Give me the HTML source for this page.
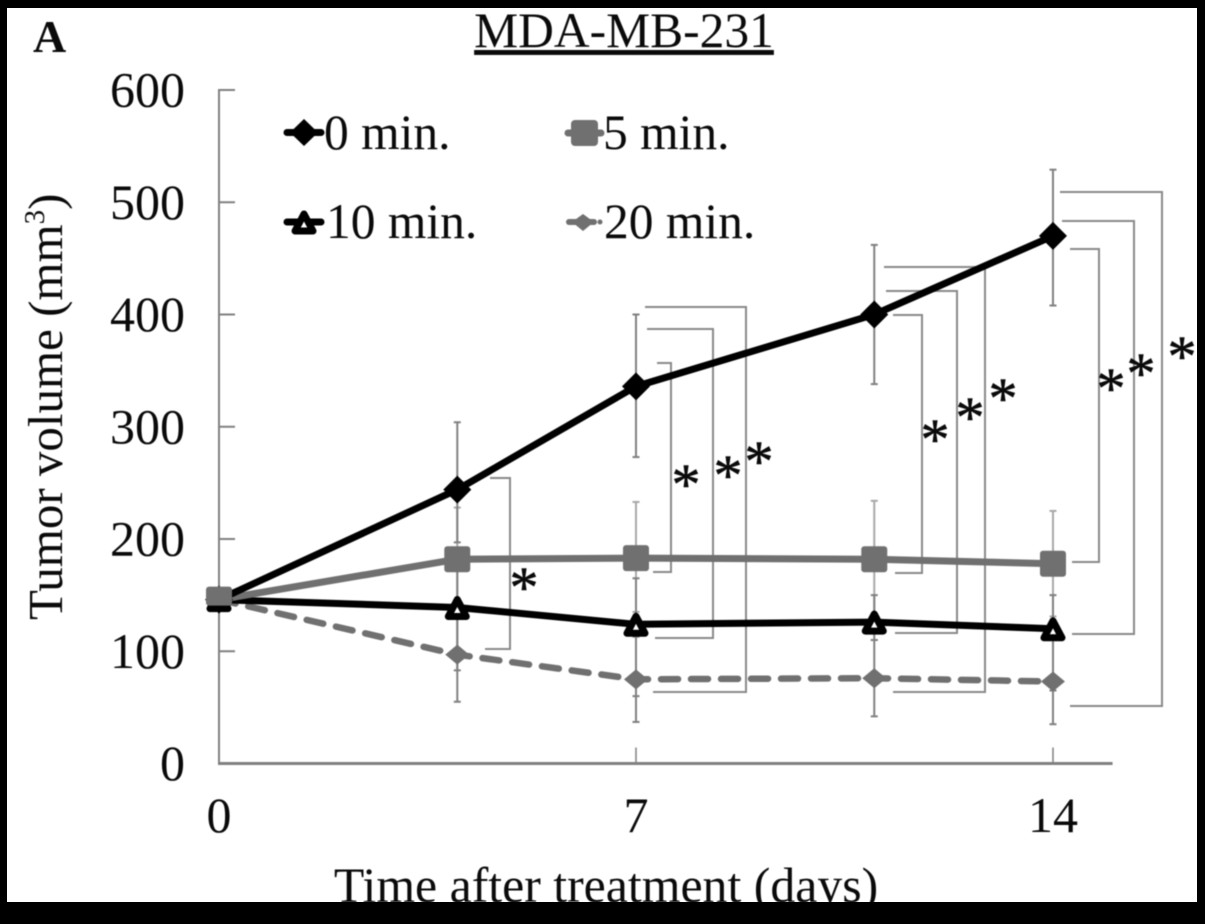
<!DOCTYPE html>
<html lang="en">
<head>
<meta charset="utf-8">
<title>MDA-MB-231 tumor volume</title>
<style>
html,body{margin:0;padding:0;background:#000;width:1205px;height:924px;overflow:hidden}
svg{display:block}
text{font-family:"Liberation Serif",serif;fill:#0a0a0a}
.br{fill:none;stroke:#8a8a8a;stroke-width:2}
.ast{font-size:58px;text-anchor:middle;stroke:#0a0a0a;stroke-width:.6}
.tk{font-size:50px}
</style>
</head>
<body>
<svg id="chart" width="1205" height="924" viewBox="0 0 1205 924" xmlns="http://www.w3.org/2000/svg">
  <rect x="0" y="0" width="1205" height="924" fill="#000"/>
  <rect x="7" y="8" width="1190" height="894" fill="#fff"/>
  <g id="root" style="filter:blur(0.6px)">
    <text x="33" y="52" font-size="46" font-weight="bold">A</text>
    <text x="624" y="47" font-size="49.5" text-anchor="middle" text-decoration="underline">MDA-MB-231</text>
    <text transform="translate(62,620) rotate(-90)" font-size="49">Tumor volume (mm<tspan font-size="29" dy="-18">3</tspan><tspan dy="18">)</tspan></text>
    <g id="axes"></g>
    <g id="brackets">
      <polyline class="br" points="490,478 510,478 510,649 485,649"/>
      <polyline class="br" points="657,363 671,363 671,572 653,572"/>
      <polyline class="br" points="647,329 713,329 713,638 655,638"/>
      <polyline class="br" points="645,307 746,307 746,692 653,692"/>
      <polyline class="br" points="893,315 922,315 922,573 895,573"/>
      <polyline class="br" points="886,291 957,291 957,633 895,633"/>
      <polyline class="br" points="884,267 985,267 985,692 893,692"/>
      <polyline class="br" points="1070,249 1099,249 1099,562 1072,562"/>
      <polyline class="br" points="1062,221 1134,221 1134,634 1072,634"/>
      <polyline class="br" points="1060,192 1162,192 1162,706 1070,706"/>
    </g>
    <g id="errors"></g>
    <g id="series"></g>
    <g>
      <text class="ast" x="524" y="607">*</text>
      <text class="ast" x="686" y="504">*</text>
      <text class="ast" x="728" y="495">*</text>
      <text class="ast" x="759" y="481">*</text>
      <text class="ast" x="935" y="459">*</text>
      <text class="ast" x="970" y="437">*</text>
      <text class="ast" x="1003" y="418">*</text>
      <text class="ast" x="1111" y="408">*</text>
      <text class="ast" x="1141" y="393">*</text>
      <text class="ast" x="1182" y="376">*</text>
    </g>
    <g>
      <g>
        <line x1="287" x2="321" y1="132.5" y2="132.5" stroke="#000" stroke-width="7" stroke-linecap="round"/>
        <polygon points="304,119 318,132.5 304,146 290,132.5" fill="#000"/>
        <text x="324" y="149" font-size="49.5">0 min.</text>
      </g>
      <g>
        <line x1="568" x2="601" y1="133" y2="133" stroke="#707070" stroke-width="7" stroke-linecap="round"/>
        <rect x="571" y="120" width="27" height="26" rx="4" fill="#707070"/>
        <text x="603" y="149" font-size="49.5">5 min.</text>
      </g>
      <g>
        <line x1="287" x2="321" y1="222" y2="222" stroke="#000" stroke-width="7" stroke-linecap="round"/>
        <polygon points="295,231 313,231 304,214" fill="#fff" stroke="#000" stroke-width="7" stroke-linejoin="round"/>
        <text x="326" y="238" font-size="49.5">10 min.</text>
      </g>
      <g>
        <line x1="569" x2="594" y1="222" y2="222" stroke="#707070" stroke-width="6" stroke-linecap="round"/>
        <polygon points="583,214 594,222 583,231 572,222" fill="#707070"/>
        <circle cx="600" cy="222" r="2.5" fill="#707070"/>
        <text x="604" y="238" font-size="49.5">20 min.</text>
      </g>
    </g>
    <text x="606" y="902" font-size="49.8" text-anchor="middle">Time after treatment (days)</text>
  </g>
  <rect x="0" y="902" width="1205" height="22" fill="#000"/>
</svg>
<script>
const days = [0, 4, 7, 11, 14];
const yTicks = [0, 100, 200, 300, 400, 500, 600];
const xTicks = [0, 7, 14];
const min0 = [146, 244, 336, 400, 470];
const min5 = [146, 182, 183, 182, 178];
const min10 = [146, 139, 124, 126, 120];
const min20 = [146, 97, 75, 76, 73];
const min0Hi = [146, 304, 400, 462, 529];
const min0Lo = [146, 197, 273, 338, 408];
const min5Hi = [146, 228, 233, 234, 225];
const min5Lo = [146, 138, 135, 130, 131];
const min10Hi = [146, 190, 165, 150, 150];
const min10Lo = [146, 83, 60, 110, 65];
const min20Hi = [146, 138, 113, 110, 111];
const min20Lo = [146, 55, 37, 42, 35];

const NS = 'http://www.w3.org/2000/svg';
const xs = d => 219 + d * 59.57;
const ys = v => 763.5 - v * 1.1225;
function mk(tag, parent, attrs) {
  const el = document.createElementNS(NS, tag);
  for (const k in attrs) el.setAttribute(k, attrs[k]);
  parent.appendChild(el);
  return el;
}

const axes = document.getElementById('axes');
const yLine = mk('line', axes, {x1: 219, x2: 219, y1: ys(600) - 1, y2: ys(0), stroke: '#808080', 'stroke-width': 2});


const xLine = mk('line', axes, {x1: 218, x2: xs(15), y1: ys(0), y2: ys(0), stroke: '#808080', 'stroke-width': 3});


yTicks.forEach(v => {
  if (v > 0) {
    const t = mk('line', axes, {x1: 219, x2: 235, y1: ys(v), y2: ys(v), stroke: '#808080', 'stroke-width': 2});
    
    
  }
  const l = mk('text', axes, {x: 185, y: ys(v) + 16.5, 'text-anchor': 'end', class: 'tk'});
  
  
  l.textContent = v;
});
xTicks.forEach(d => {
  if (d > 0) {
    const t = mk('line', axes, {x1: xs(d), x2: xs(d), y1: ys(0) - 16, y2: ys(0), stroke: '#808080', 'stroke-width': 1.5});
    
    
  }
  const l = mk('text', axes, {x: xs(d), y: 832, 'text-anchor': 'middle', class: 'tk'});
  
  
  l.textContent = d;
});

const errors = document.getElementById('errors');
function drawErrors(hi, lo, color) {
  days.forEach((d, i) => {
    if (hi[i] === lo[i]) return;
    const x = xs(d);
    const v = mk('line', errors, {x1: x, x2: x, y1: ys(hi[i]), y2: ys(lo[i]), stroke: color, 'stroke-width': 2});
    
    
    [hi[i], lo[i]].forEach(e => {
      const c = mk('line', errors, {x1: x - 3.5, x2: x + 3.5, y1: ys(e), y2: ys(e), stroke: color, 'stroke-width': 2});
      
      
    });
  });
}
drawErrors(min5Hi, min5Lo, '#a8a8a8');
drawErrors(min0Hi, min0Lo, '#808080');
drawErrors(min10Hi, min10Lo, '#808080');
drawErrors(min20Hi, min20Lo, '#808080');

const seriesG = document.getElementById('series');
function linePts(vals) {
  return vals.map((v, i) => xs(days[i]) + ',' + ys(v)).join(' ');
}
function drawLine(vals, color, width, dash) {
  const attrs = {points: linePts(vals), fill: 'none', stroke: color, 'stroke-width': width, 'stroke-linejoin': 'round'};
  if (dash) {
    attrs['stroke-dasharray'] = dash;
    attrs['stroke-linecap'] = 'round';
  }
  const p = mk('polyline', seriesG, attrs);
  
  
}
drawLine(min20, '#707070', 6.5, '17 13');
drawLine(min10, '#000', 7);
drawLine(min5, '#707070', 7);
drawLine(min0, '#000', 7);

min20.forEach((v, i) => {
  const x = xs(days[i]), y = ys(v);
  const m = mk('polygon', seriesG, {points: [x, y - 10, x + 12, y, x, y + 10, x - 12, y].join(','), fill: '#707070'});
  
  
});
min0.forEach((v, i) => {
  const x = xs(days[i]), y = ys(v);
  const m = mk('polygon', seriesG, {points: [x, y - 14, x + 14, y, x, y + 14, x - 14, y].join(','), fill: '#000'});
  
  
});
min10.forEach((v, i) => {
  const x = xs(days[i]), y = ys(v);
  const m = mk('polygon', seriesG, {points: [x - 9, y + 9, x + 9, y + 9, x, y - 8].join(','), fill: '#fff', stroke: '#000', 'stroke-width': 7, 'stroke-linejoin': 'round'});
  
  
});
min5.forEach((v, i) => {
  const x = xs(days[i]), y = ys(v);
  const m = mk('rect', seriesG, {x: x - 13, y: y - 13, width: 26, height: i === 0 ? 19 : 26, rx: 3, fill: '#707070'});
  
  
});
</script>
</body>
</html>
